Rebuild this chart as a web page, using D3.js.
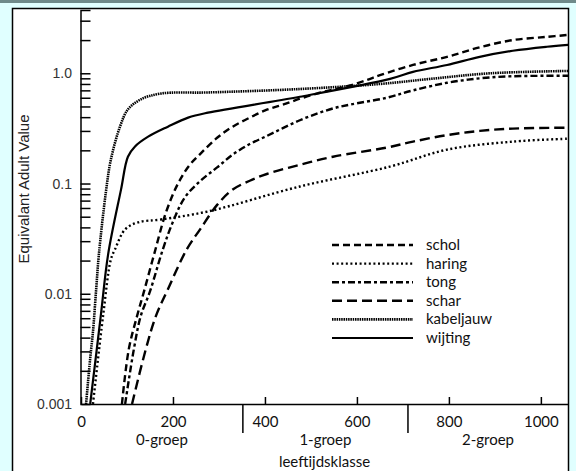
<!DOCTYPE html>
<html lang="en">
<head>
<meta charset="UTF-8">
<title>Equivalant Adult Value</title>
<script src="https://d3js.org/d3.v7.min.js"></script>
<style>
  body { margin: 0; background: #e0ffff; }
</style>
</head>
<body>
<div id="my_dataviz"></div>
<script>
var width = 576
var height = 471

// series (days, value)
var names = ["schol", "haring", "tong", "schar", "kabeljauw", "wijting"]

var scholDays = [89, 104, 122, 137, 159, 185, 211, 235, 259, 296, 330, 367, 404, 439, 476, 513, 548, 585, 622, 650, 722, 796, 867, 939, 1013, 1060]
var scholVals = [0.001, 0.00315, 0.0063, 0.0105, 0.0228, 0.055, 0.1, 0.145, 0.185, 0.26, 0.328, 0.396, 0.467, 0.519, 0.588, 0.655, 0.71, 0.775, 0.87, 0.96, 1.19, 1.41, 1.72, 2.0, 2.14, 2.23]

var haringDays = [26, 48, 65, 74, 96, 124, 174, 276, 476, 672, 796, 939, 1060]
var haringVals = [0.001, 0.0063, 0.0205, 0.0253, 0.0384, 0.0444, 0.0472, 0.0558, 0.094, 0.1425, 0.203, 0.24, 0.255]

var tongDays = [96, 115, 130, 150, 178, 200, 226, 259, 296, 330, 367, 404, 439, 476, 513, 548, 585, 665, 722, 796, 867, 939, 1060]
var tongVals = [0.001, 0.00315, 0.0063, 0.0105, 0.0253, 0.045, 0.075, 0.105, 0.14, 0.183, 0.228, 0.27, 0.318, 0.375, 0.43, 0.48, 0.52, 0.6, 0.7, 0.82, 0.9, 0.94, 0.95]

var scharDays = [111, 141, 163, 189, 230, 259, 296, 330, 367, 404, 476, 548, 665, 722, 796, 867, 939, 1060]
var scharVals = [0.001, 0.00315, 0.0063, 0.011, 0.0253, 0.0384, 0.064, 0.0882, 0.106, 0.122, 0.148, 0.175, 0.212, 0.24, 0.275, 0.3, 0.315, 0.321]

var kabeljauwDays = [11, 20, 26, 33, 39, 54, 65, 85, 102, 130, 174, 276, 476, 650, 760, 890, 1060]
var kabeljauwVals = [0.001, 0.0026, 0.0045, 0.011, 0.023, 0.083, 0.165, 0.33, 0.47, 0.58, 0.655, 0.67, 0.72, 0.8, 0.89, 1.0, 1.05]

var wijtingDays = [20, 43, 59, 87, 102, 117, 146, 189, 233, 276, 476, 672, 722, 796, 867, 939, 1013, 1060]
var wijtingVals = [0.001, 0.0063, 0.0228, 0.088, 0.175, 0.216, 0.266, 0.328, 0.396, 0.439, 0.613, 0.89, 1.03, 1.19, 1.41, 1.6, 1.74, 1.81]

var xTicks = [0, 200, 400, 600, 800, 1000]
var yTicks = [0.001, 0.01, 0.1, 1]
var yTickLabels = ["0.001", "0.01", "0.1", "1.0"]
var groupBreaks = [352, 711]
var groupLabels = ["0-groep", "1-groep", "2-groep"]

var series = [
  { name: "schol", days: scholDays, vals: scholVals, dash: "7,4", w: 2.4 },
  { name: "haring", days: haringDays, vals: haringVals, dash: "2,2.6", w: 2.4 },
  { name: "tong", days: tongDays, vals: tongVals, dash: "7,3,3,3", w: 2.4 },
  { name: "schar", days: scharDays, vals: scharVals, dash: "10,5", w: 2.4 },
  { name: "kabeljauw", days: kabeljauwDays, vals: kabeljauwVals, dash: "1.5,0.8", w: 2.6 },
  { name: "wijting", days: wijtingDays, vals: wijtingVals, dash: null, w: 2.2 }
]

var svg = d3.select("#my_dataviz")
  .append("svg")
  .attr("width", width)
  .attr("height", height)
  .style("display", "block")

// frame
svg.append("rect")
  .attr("width", width).attr("height", height)
  .attr("fill", "#e0ffff")
svg.append("line")
  .attr("x1", 0).attr("x2", width).attr("y1", 1.5).attr("y2", 1.5)
  .attr("stroke", "#6f8a8a").attr("stroke-width", 3)
svg.append("rect")
  .attr("x", 12.5).attr("y", 8.5)
  .attr("width", 556).attr("height", 470)
  .attr("fill", "#fff")
  .attr("stroke", "#000").attr("stroke-width", 1.5)

var x = d3.scaleLinear().domain([0, 1059]).range([81, 568])
var y = d3.scaleLog().domain([0.001, 3.75]).range([404, 10])

svg.append("defs").append("clipPath").attr("id", "plot")
  .append("rect")
  .attr("x", 81).attr("y", 10)
  .attr("width", 487).attr("height", 394)

// x axis
var xAxis = svg.append("g")
  .attr("transform", "translate(0,404)")
  .call(d3.axisBottom(x).tickValues(xTicks).tickFormat(d3.format("d"))
    .tickSize(-7).tickSizeOuter(0).tickPadding(12))
xAxis.select(".domain").attr("stroke-width", 1.5)
xAxis.selectAll(".tick line").attr("stroke-width", 1.5)
xAxis.selectAll(".tick text")
  .style("font-family", "Lato, sans-serif")
  .style("font-size", "15px")
  .attr("fill", "#111")

// group dividers and labels
svg.selectAll(".divider")
  .data(groupBreaks)
  .enter()
  .append("line")
  .attr("x1", function(d) { return x(d) })
  .attr("x2", function(d) { return x(d) })
  .attr("y1", 404).attr("y2", 433)
  .attr("stroke", "#000").attr("stroke-width", 1.5)

var edges = [0].concat(groupBreaks, [1059])
svg.selectAll(".group")
  .data(groupLabels)
  .enter()
  .append("text")
  .attr("x", function(d, i) { return (x(edges[i]) + x(edges[i + 1])) / 2 })
  .attr("y", 445)
  .attr("text-anchor", "middle")
  .style("font-family", "Lato, sans-serif")
  .style("font-size", "15px")
  .attr("fill", "#111")
  .text(function(d) { return d })

svg.append("text")
  .attr("x", (x(0) + x(1059)) / 2)
  .attr("y", 467)
  .attr("text-anchor", "middle")
  .style("font-family", "Lato, sans-serif")
  .style("font-size", "15px")
  .attr("fill", "#111")
  .text("leeftijdsklasse")

// y axis with minor ticks
var minor = []
for (var e = -3; e <= 0; e++) {
  for (var m = 1; m <= 9; m++) {
    var v = m * Math.pow(10, e)
    if (v <= 3.75 && v > 0.001) minor.push(v)
  }
}
var yAxis = svg.append("g")
  .attr("transform", "translate(80.5,0)")
  .call(d3.axisLeft(y).tickValues(minor).tickSize(-10).tickSizeOuter(-10).tickFormat(""))
yAxis.select(".domain").attr("stroke-width", 1.5)
yAxis.selectAll(".tick line").attr("stroke-width", 1.5)

svg.selectAll(".ylab")
  .data(yTicks)
  .enter()
  .append("text")
  .attr("x", 72)
  .attr("y", function(d) { return y(d) + 5 })
  .attr("text-anchor", "end")
  .style("font-family", "'Liberation Sans', Arial, sans-serif")
  .style("font-size", "14px")
  .attr("fill", "#333")
  .text(function(d, i) { return yTickLabels[i] })

svg.append("text")
  .attr("transform", "translate(29,189) rotate(-90)")
  .attr("text-anchor", "middle")
  .style("font-family", "'Liberation Sans', Arial, sans-serif")
  .style("font-size", "15px")
  .attr("fill", "#222")
  .text("Equivalant Adult Value")

// curves
var line = d3.line()
  .x(function(d) { return x(d[0]) })
  .y(function(d) { return y(d[1]) })
  .curve(d3.curveCatmullRom.alpha(0.5))

svg.append("g")
  .attr("clip-path", "url(#plot)")
  .selectAll("path")
  .data(series)
  .enter()
  .append("path")
  .attr("d", function(s) { return line(d3.zip(s.days, s.vals)) })
  .attr("fill", "none")
  .attr("stroke", "#000")
  .attr("stroke-width", function(s) { return s.w })
  .attr("stroke-dasharray", function(s) { return s.dash })

// legend
var legend = svg.selectAll(".legend")
  .data(series)
  .enter()
  .append("g")
  .attr("transform", function(d, i) { return "translate(0," + (245 + i * 18.6) + ")" })
legend.append("line")
  .attr("x1", 332).attr("x2", 413)
  .attr("stroke", "#000")
  .attr("stroke-width", function(s) { return s.w })
  .attr("stroke-dasharray", function(s) { return s.dash })
legend.append("text")
  .attr("x", 426).attr("y", 5)
  .style("font-family", "Lato, sans-serif")
  .style("font-size", "15px")
  .attr("fill", "#111")
  .text(function(s) { return s.name })
</script>
</body>
</html>
